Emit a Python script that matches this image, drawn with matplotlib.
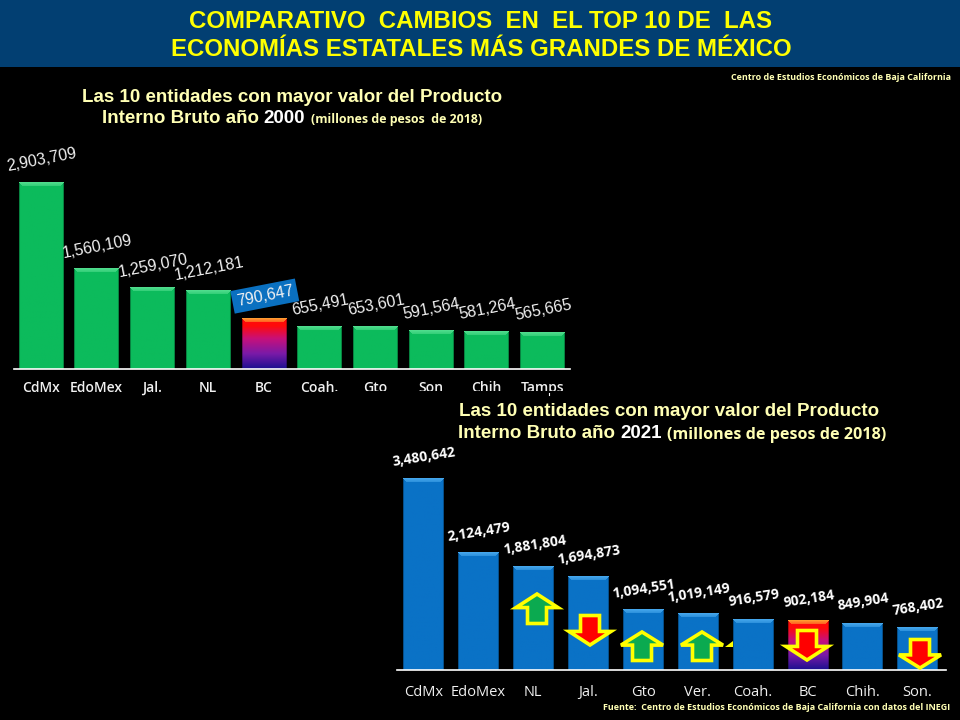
import numpy as np
import matplotlib
matplotlib.use("Agg")
import matplotlib.pyplot as plt
from matplotlib.colors import to_rgb
from matplotlib.patches import Polygon, Rectangle

# PIB por entidad, millones de pesos de 2018
states_2000 = ["CdMx", "EdoMex", "Jal.", "NL", "BC", "Coah.", "Gto", "Son", "Chih", "Tamps"]
gdp_2000 = [2903709, 1560109, 1259070, 1212181, 790647, 655491, 653601, 591564, 581264, 565665]
states_2021 = ["CdMx", "EdoMex", "NL", "Jal.", "Gto", "Ver.", "Coah.", "BC", "Chih.", "Son."]
gdp_2021 = [3480642, 2124479, 1881804, 1694873, 1094551, 1019149, 916579, 902184, 849904, 768402]

SANS = ["Liberation Sans", "DejaVu Sans"]
CALIBRI = ["Open Sans", "DejaVu Sans"]
PALE = "#FFFFB4"
W, H = 960, 720

fig = plt.figure(figsize=(W / 100, H / 100), dpi=100, facecolor="black")


def bar_image(value, px_per_unit, width_px, base, light, special=False):
    rows = max(int(value * px_per_unit), 8)
    cols = int(width_px)
    img = np.tile(np.array(to_rgb(base)), (rows, cols, 1))
    if special:
        stops = np.array([to_rgb(c) for c in ["#FF0A0A", "#C8107A", "#7A1AA8", "#1C1090"]])
        pos = np.linspace(0, 1, rows)
        for ch in range(3):
            img[:, :, ch] = np.interp(pos, [0.15, 0.4, 0.7, 1], stops[:, ch])[:, None]
        light = "#FF9A30"
    # bisel lateral y superior
    img[:, :1] *= 0.7
    img[:, -1:] *= 0.7
    top = np.array(to_rgb(light))
    for r in range(4):
        mix = 1 - r * 0.12
        for c in range(r, cols - r):
            img[r, c] = img[r, c] * (1 - mix) + top * mix
    return img


def bar_panel(left, right, base_y, top_y, first, step, px_per_m, width_px, values, names, color, light, special):
    ax = fig.add_axes([left / W, 1 - base_y / H, (right - left) / W, (base_y - top_y) / H])
    ax.set_facecolor("none")
    scale = px_per_m / 1e6
    width = width_px / step
    for i, v in enumerate(values):
        ax.imshow(bar_image(v, scale, width_px, color, light, i == special),
                  extent=[i - width / 2, i + width / 2, 0, v], aspect="auto", zorder=2)
    ax.set_xlim((left - first) / step, (right - first) / step)
    ax.set_ylim(0, (base_y - top_y) / scale)
    for s in ["top", "left", "right"]:
        ax.spines[s].set_visible(False)
    ax.spines["bottom"].set_color("white")
    ax.spines["bottom"].set_linewidth(1.2)
    ax.set_yticks([])
    ax.set_xticks(range(len(names)))
    return ax


# 2000
ax1 = bar_panel(14.5, 570, 369, 130, 41, 55.7, 64.4, 44.5, gdp_2000, states_2000, "#0CBB5C", "#4FDC8C", 4)
ax1.set_xticklabels(states_2000, family=CALIBRI, fontsize=10, fontweight="semibold", color="#F0F0F0", va="baseline")
ax1.tick_params(axis="x", length=0, pad=16.6)
for i, v in enumerate(gdp_2000):
    box = dict(boxstyle="square,pad=0.25", fc="#0A70C0", ec="none") if states_2000[i] == "BC" else None
    ax1.annotate(f"{v:,}", (i, v), xytext=(1, 22), textcoords="offset pixels", ha="center", va="center",
                 rotation=11, rotation_mode="anchor", family=SANS, fontsize=11.5, color="#F2F2F2",
                 bbox=box, zorder=4)

# 2021
ax2 = bar_panel(397, 946, 670, 450, 423.5, 54.9, 55.16, 40.5, gdp_2021, states_2021, "#0A72C6", "#44A6EC", 7)
ax2.set_xticklabels(states_2021, family=CALIBRI, fontsize=10.5, fontweight="medium", color="#F0F0F0", va="baseline")
ax2.tick_params(axis="x", length=0, pad=19)
for i, v in enumerate(gdp_2021):
    ax2.annotate(f"{v:,}", (i, v), xytext=(1, 21), textcoords="offset pixels", ha="center", va="center",
                 rotation=9, rotation_mode="anchor", family=CALIBRI, fontsize=10, fontweight="bold",
                 color="white", zorder=4)

# capa en pixeles para banner, titulos y flechas
over = fig.add_axes([0, 0, 1, 1], zorder=5)
over.set_xlim(0, W)
over.set_ylim(H, 0)
over.axis("off")
over.patch.set_alpha(0)

over.add_patch(Rectangle((0, 0), W, 67, fc="#023F72", ec="none", zorder=1))

# tapa las etiquetas de abajo del primer panel, como en la lamina
over.add_patch(Rectangle((335, 391), 625, 12, fc="black", ec="none", zorder=1))
over.plot([548.5, 548.5], [393, 395], color="white", lw=0.8, zorder=2)

over.text(481, 21, "COMPARATIVO  CAMBIOS  EN  EL TOP 10 DE  LAS", ha="center", va="center",
          family=SANS, fontsize=17.3, fontweight="bold", color="#FFFF00", zorder=3)
over.text(481, 50, "ECONOMÍAS ESTATALES MÁS GRANDES DE MÉXICO", ha="center", va="center",
          family=SANS, fontsize=17.3, fontweight="bold", color="#FFFF00", zorder=3)
over.text(951, 78, "Centro de Estudios Económicos de Baja California", ha="right", va="center",
          family=CALIBRI, fontsize=6.5, fontweight="bold", color=PALE)
over.text(950, 708, "Fuente:  Centro de Estudios Económicos de Baja California con datos del INEGI", ha="right",
          va="center", family=CALIBRI, fontsize=6.45, fontweight="bold", color=PALE)


def heading(x1, y1, fs1, x2, y2, year_x, year, paren_x, paren, fs3):
    over.text(x1, y1, "Las 10 entidades con mayor valor del Producto", va="center", family=SANS,
              fontsize=fs1, fontweight="bold", color=PALE)
    over.text(x2, y2, "Interno Bruto año", va="center", family=SANS, fontsize=fs1, fontweight="bold", color=PALE)
    over.text(year_x, y2, year, va="center", family=SANS, fontsize=fs1, fontweight="bold", color="white")
    over.text(paren_x, y2 + 1, paren, va="center", family=CALIBRI, fontsize=fs3, fontweight="bold", color=PALE)


heading(82, 97.5, 13.5, 102, 118.5, 263, "2000", 311, "(millones de pesos  de 2018)", 8.9)
heading(459, 412, 13.5, 458, 434, 620, "2021", 667, "(millones de pesos de 2018)", 11.6)


def arrow(cx, start, tip, color, half=21, shaft=9.5):
    # start = extremo de la cola, tip = punta
    neck = tip + (start - tip) * 0.46
    pts = [(cx, tip), (cx + half, neck), (cx + shaft, neck), (cx + shaft, start),
           (cx - shaft, start), (cx - shaft, neck), (cx - half, neck)]
    over.add_patch(Polygon(pts, closed=True, fc=color, ec="#FFFF00", lw=2.6, joinstyle="miter", zorder=4))


GREEN, RED = "#0BAA50", "#FF0000"
arrow(537, 623.5, 594, GREEN)
arrow(590, 615.5, 645, RED)
arrow(642, 660.5, 632, GREEN)
arrow(702, 660.5, 632, GREEN)
arrow(807, 630.5, 660, RED)
arrow(920, 639.5, 668, RED)
over.add_patch(Polygon([(725, 647), (733, 647), (733, 641)], closed=True, fc="#FFFF00", ec="none", zorder=4))

fig.savefig("out.png", dpi=100, facecolor="black")
